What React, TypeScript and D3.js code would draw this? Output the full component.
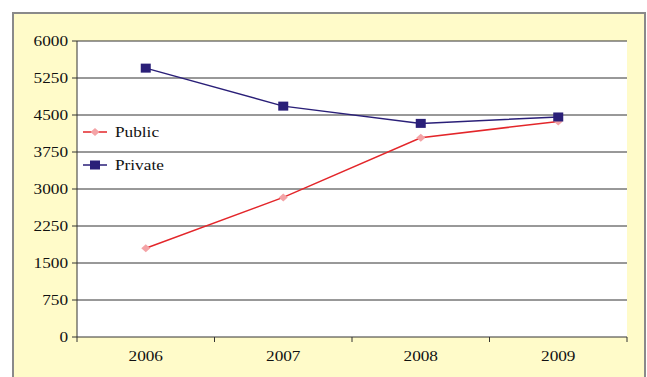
import React, { useEffect, useRef } from 'react';
import * as d3 from 'd3';

const years = ['2006', '2007', '2008', '2009'];
const publicValues = [1800, 2830, 4040, 4370];
const privateValues = [5450, 4680, 4330, 4460];
const yTicks = [0, 750, 1500, 2250, 3000, 3750, 4500, 5250, 6000];

const W = 647;
const H = 377;
const sx = 1.15; // the source picture is a little wider than tall

const App: React.FC = () => {
  const svgRef = useRef<SVGSVGElement>(null);

  useEffect(() => {
    if (!svgRef.current) return;
    const svg = d3.select(svgRef.current);
    svg.selectAll('*').remove();

    const left = 77, right = 627, top = 41, bottom = 337;

    // frame
    svg.append('rect')
      .attr('x', 13).attr('y', 13)
      .attr('width', 632).attr('height', 380)
      .attr('fill', '#fffbc9')
      .attr('stroke', '#8a8a8a')
      .attr('stroke-width', 2);

    svg.append('rect')
      .attr('x', left).attr('y', top)
      .attr('width', right - left).attr('height', bottom - top)
      .attr('fill', '#ffffff');

    const x = d3.scaleBand().domain(years).range([left, right]);
    const y = d3.scaleLinear().domain([0, 6000]).range([bottom, top]);

    // gridlines
    svg.append('g')
      .selectAll('line')
      .data(yTicks)
      .enter()
      .append('line')
      .attr('x1', left - 5)
      .attr('x2', right)
      .attr('y1', d => y(d))
      .attr('y2', d => y(d))
      .attr('stroke', '#333333')
      .attr('stroke-width', 1);

    svg.append('line')
      .attr('x1', left).attr('x2', left)
      .attr('y1', top).attr('y2', bottom)
      .attr('stroke', '#333333');

    // x axis ticks at band boundaries
    const bounds = [...years.map(d => x(d) as number), right];
    svg.append('g')
      .selectAll('line')
      .data(bounds)
      .enter()
      .append('line')
      .attr('x1', d => d)
      .attr('x2', d => d)
      .attr('y1', bottom)
      .attr('y2', bottom + 5)
      .attr('stroke', '#333333');

    const txt = (px: number, py: number, s: string, anchor: string) =>
      svg.append('text')
        .attr('transform', `translate(${px},${py}) scale(${sx},1)`)
        .attr('text-anchor', anchor)
        .attr('dominant-baseline', 'central')
        .attr('font-family', '"Liberation Serif", "Times New Roman", serif')
        .attr('font-size', 15)
        .attr('fill', '#111111')
        .text(s);

    yTicks.forEach(t => txt(68, y(t), String(t), 'end'));
    years.forEach(yr => txt((x(yr) as number) + x.bandwidth() / 2, 356, yr, 'middle'));

    const cx = (i: number) => (x(years[i]) as number) + x.bandwidth() / 2;
    const line = d3.line<number>()
      .x((_, i) => cx(i))
      .y(d => y(d));

    svg.append('path')
      .datum(publicValues)
      .attr('fill', 'none')
      .attr('stroke', '#e3262a')
      .attr('stroke-width', 1.5)
      .attr('d', line);

    svg.append('path')
      .datum(privateValues)
      .attr('fill', 'none')
      .attr('stroke', '#2a1f78')
      .attr('stroke-width', 1.5)
      .attr('d', line);

    const diamond = (px: number, py: number) =>
      svg.append('path')
        .attr('d', `M${px},${py - 4}L${px + 4.5},${py}L${px},${py + 4}L${px - 4.5},${py}Z`)
        .attr('fill', '#f4a3a6');

    const square = (px: number, py: number) =>
      svg.append('rect')
        .attr('x', px - 5).attr('y', py - 4.5)
        .attr('width', 10).attr('height', 9)
        .attr('fill', '#2a1f78');

    publicValues.forEach((v, i) => diamond(cx(i), y(v)));
    privateValues.forEach((v, i) => square(cx(i), y(v)));

    // legend
    const legend = [
      { name: 'Public', color: '#e3262a', mark: diamond, yy: 132 },
      { name: 'Private', color: '#2a1f78', mark: square, yy: 165 },
    ];
    legend.forEach(l => {
      svg.append('line')
        .attr('x1', 83).attr('x2', 107)
        .attr('y1', l.yy).attr('y2', l.yy)
        .attr('stroke', l.color)
        .attr('stroke-width', 1.5);
      l.mark(95, l.yy);
      txt(115, l.yy, l.name, 'start');
    });
  }, []);

  return (
    <div style={{ position: 'absolute', left: 0, top: 0 }}>
      <svg ref={svgRef} width={W} height={H} style={{ display: 'block' }} />
    </div>
  );
};

export default App;
